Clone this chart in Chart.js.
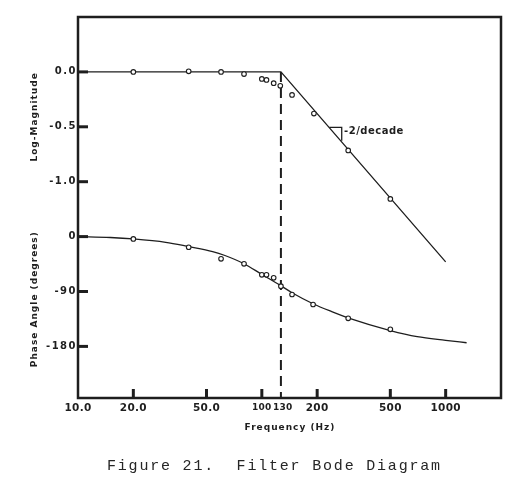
<!DOCTYPE html>
<html><head><meta charset="utf-8">
<script src="https://cdn.jsdelivr.net/npm/chart.js@4.4.1/dist/chart.umd.min.js"></script>
<style>
html,body{margin:0;padding:0;background:#fff;}
#wrap{position:relative;width:512px;height:498px;overflow:hidden;}
#caption{position:absolute;left:107px;top:458px;font-family:"Liberation Mono",monospace;font-size:15px;letter-spacing:1.8px;color:#262626;white-space:pre;line-height:18px;}
</style></head><body>
<div id="wrap"><canvas id="c" width="512" height="498"></canvas>
<div id="caption">Figure 21.  Filter Bode Diagram</div></div>
<script>
// ---- tick labels ----
const xTickValues = [10, 20, 50, 100, 130, 200, 500, 1000];
const xTickLabels = ['10.0', '20.0', '50.0', '100', '130', '200', '500', '1000'];
const xNarrowTicks = [100, 130];
const xInnerTicks = [20, 50, 100, 200, 500, 1000];
const magTickValues = [0, -0.5, -1.0];
const magTickLabels = ['0.0', '-0.5', '-1.0'];
const phaseTickValues = [0, -90, -180];
const phaseTickLabels = ['0', '-90', '-180'];

// ---- log-magnitude ----
const magFreq   = [20, 40, 60, 80, 100, 106, 116, 126, 146, 192, 295, 500];
const magValues = [0, 0.005, 0, -0.02, -0.064, -0.073, -0.103, -0.127, -0.21, -0.38, -0.715, -1.157];
const magAsymFreq   = [10, 127, 1000];
const magAsymValues = [0, 0, -1.73];
const cornerFreq = 127;

// slope marker (-2/decade)
const slopeTriFreq   = [233, 272, 272];
const slopeTriValues = [-0.506, -0.506, -0.627];
const slopeLabel = '-2/decade';
const slopeLabelFreq = 280;
const slopeLabelValue = -0.545;

// ---- phase angle (degrees) ----
const phaseFreq   = [20, 40, 60, 80, 100, 106, 116, 127, 146, 190, 295, 500];
const phaseValues = [-3.8, -17.5, -36.5, -44.7, -62.7, -62.7, -67.6, -81.3, -94.9, -111.3, -134, -152];
const phaseCurveFreq   = [10, 15, 20, 30, 40, 54, 63, 80, 100, 126, 146, 191, 240, 300, 500, 700, 1000, 1300];
const phaseCurveValues = [0, -1.5, -3.8, -9.3, -16.4, -24.5, -31, -44.5, -62, -80, -92, -110.5, -123, -134, -154, -164, -170, -174];

// axis titles
const xTitle = 'Frequency (Hz)';
const magTitle = 'Log-Magnitude';
const phaseTitle = 'Phase Angle (degrees)';

// shared vertical axis: phase panel sits below the magnitude panel
const PHASE_ORIGIN = -1.5;      // axis position of 0 degrees
const PHASE_UNIT = 0.5 / 90;    // axis units per degree
const Y_MIN = -2.97, Y_MAX = 0.5;
const toAxis = p => PHASE_ORIGIN + p * PHASE_UNIT;

const yTickValues = magTickValues.concat(phaseTickValues.map(toAxis));
const yTickLabels = magTickLabels.concat(phaseTickLabels);

const pts = (xs, ys, f = v => v) => xs.map((x, i) => ({x, y: f(ys[i])}));

const INK = '#1e1e1e';
const FONT = 'DejaVu Sans';

const bodePlugin = {
  id: 'bode',
  beforeDraw(chart) { chart.ctx.letterSpacing = '1.5px'; },          // y-axis labels (z = 0)
  afterDatasetsDraw(chart) { chart.ctx.letterSpacing = '0.3px'; },   // x-axis labels (ticks.z = 1)
  afterDraw(chart) {
    const {ctx, chartArea: a, scales: {x, y}} = chart;
    ctx.save();
    ctx.letterSpacing = '0px';
    ctx.strokeStyle = INK;
    ctx.lineWidth = 2.5;
    ctx.strokeRect(a.left, a.top, a.right - a.left, a.bottom - a.top);
    ctx.lineWidth = 3;
    yTickValues.forEach(v => {
      const py = y.getPixelForValue(v);
      ctx.beginPath(); ctx.moveTo(a.left, py); ctx.lineTo(a.left + 10, py); ctx.stroke();
    });
    xInnerTicks.forEach(v => {
      const px = x.getPixelForValue(v);
      ctx.beginPath(); ctx.moveTo(px, a.bottom); ctx.lineTo(px, a.bottom - 9); ctx.stroke();
    });
    // axis titles
    ctx.fillStyle = INK;
    ctx.font = 'bold 9px "' + FONT + '"';
    ctx.letterSpacing = '1px';
    ctx.textAlign = 'center';
    ctx.textBaseline = 'middle';
    ctx.fillText(xTitle, (a.left + a.right) / 2 + 0.5, a.bottom + 30);
    [[magTitle, -0.41], [phaseTitle, -2.07]].forEach(([t, v]) => {
      ctx.save();
      ctx.translate(35, y.getPixelForValue(v));
      ctx.rotate(-Math.PI / 2);
      ctx.fillText(t, 0, 0);
      ctx.restore();
    });
    // slope annotation text
    ctx.font = 'bold 10px "' + FONT + '"';
    ctx.letterSpacing = '0.5px';
    ctx.textAlign = 'left';
    ctx.fillText(slopeLabel, x.getPixelForValue(slopeLabelFreq), y.getPixelForValue(slopeLabelValue));
    ctx.restore();
    ctx.letterSpacing = '0px';
  }
};

const lineBase = {showLine: true, pointRadius: 0, borderColor: INK, borderWidth: 1.3, fill: false};
const pointBase = {showLine: false, pointRadius: 2.3, pointBorderWidth: 1.1, pointBorderColor: INK, pointBackgroundColor: '#fff', borderColor: INK, backgroundColor: '#fff'};

new Chart(document.getElementById('c'), {
  type: 'scatter',
  data: {
    datasets: [
      {...pointBase, label: 'Log-magnitude (measured)', data: pts(magFreq, magValues)},
      {...pointBase, label: 'Phase (measured)', data: pts(phaseFreq, phaseValues, toAxis)},
      {...lineBase, label: 'Log-magnitude asymptote', data: pts(magAsymFreq, magAsymValues)},
      {...lineBase, label: 'Phase curve', data: pts(phaseCurveFreq, phaseCurveValues, toAxis), cubicInterpolationMode: 'monotone'},
      {...lineBase, label: 'Corner frequency', data: [{x: cornerFreq, y: 0}, {x: cornerFreq, y: Y_MIN}], borderDash: [10, 6], borderWidth: 2},
      {...lineBase, label: 'Slope marker', data: pts(slopeTriFreq, slopeTriValues), borderWidth: 1.3}
    ]
  },
  options: {
    responsive: false,
    animation: false,
    devicePixelRatio: 1,
    layout: {padding: {top: 17, right: 11, left: 0, bottom: 0}},
    plugins: {legend: {display: false}, tooltip: {enabled: false}},
    scales: {
      x: {
        type: 'logarithmic', min: 10, max: 2000,
        border: {display: false},
        grid: {display: false, drawTicks: false},
        ticks: {z: 1, autoSkip: false, maxRotation: 0, minRotation: 0, padding: 4, color: INK,
          font: c => ({family: FONT, weight: 'bold',
            size: (c.tick && xNarrowTicks.includes(c.tick.value)) ? 9 : 10.5}),
          callback: (v, i) => xTickLabels[i]},
        title: {display: false},
        afterBuildTicks: s => { s.ticks = xTickValues.map(v => ({value: v})); },
        afterFit: s => { s.height = 100; }
      },
      y: {
        type: 'linear', min: Y_MIN, max: Y_MAX,
        border: {display: false},
        grid: {display: false, drawTicks: false},
        ticks: {autoSkip: false, padding: 1, color: INK,
          font: {family: FONT, weight: 'bold', size: 10},
          callback: (v, i) => yTickLabels[i]},
        afterBuildTicks: s => { s.ticks = yTickValues.map(v => ({value: v})); },
        afterFit: s => { s.width = 78; }
      }
    }
  },
  plugins: [bodePlugin]
});
</script>
</body></html>
